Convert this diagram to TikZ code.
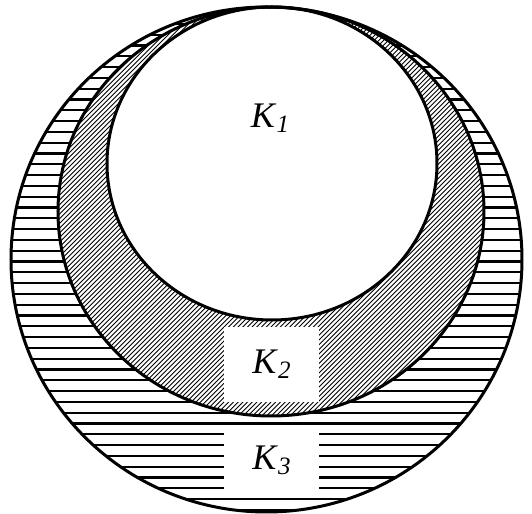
\documentclass[tikz,border=0pt]{standalone}
\usepackage{fontspec}
\setmainfont{Liberation Serif}
\usepackage{tikz}
\usetikzlibrary{positioning, calc}

\newcommand{\kname}[1]{\textit{K}\raisebox{-0.3ex}{\fontsize{12.5pt}{13pt}\selectfont\textit{#1}}}

\begin{document}
\begin{tikzpicture}[
        x=0.5pt, y=0.5pt,
        every node/.style={font=\fontsize{18pt}{20pt}\selectfont},
        ring/.style={draw, line width=1.5pt},
        hline/.style={line width=1.1pt},
        dline/.style={line width=0.45pt},
        tag/.style={fill=white, inner sep=0pt, minimum width=47.5pt}
    ]
        \useasboundingbox (0,0) rectangle (532,514);

        % Centres
        \coordinate (outer) at (266.5,254.5);
        \coordinate (middle) at (271,302.5);
        \coordinate (inner) at (272,350.5);

        % Rings
        \begin{scope}
            \clip (outer) ellipse [x radius=255.5, y radius=252.5];
            \foreach \y in {4,14.8,...,514}
                \draw[hline] (0,\y) -- (532,\y);
        \end{scope}
        \fill[white] (middle) ellipse [x radius=213, y radius=204.5];
        \begin{scope}
            \clip (middle) ellipse [x radius=213, y radius=204.5];
            \foreach \c in {-560,-555.3,...,560}
                \draw[dline] (\c,0) -- ++(600,600);
        \end{scope}
        \fill[white] (inner) ellipse [x radius=165, y radius=156.5];

        % Labels
        \node (k1) at (270,396) {\kname{1}};
        \node[tag, minimum height=37.5pt] (k2) at (271.5,149.5) {\kname{2}};
        \node[tag, minimum height=35pt] (k3) at (271.5,54) {\kname{3}};

        % Outlines
        \draw[ring] (outer) ellipse [x radius=255.5, y radius=252.5];
        \draw[ring] (middle) ellipse [x radius=213, y radius=204.5];
        \draw[ring] (inner) ellipse [x radius=165, y radius=156.5];
    \end{tikzpicture}
\end{document}
